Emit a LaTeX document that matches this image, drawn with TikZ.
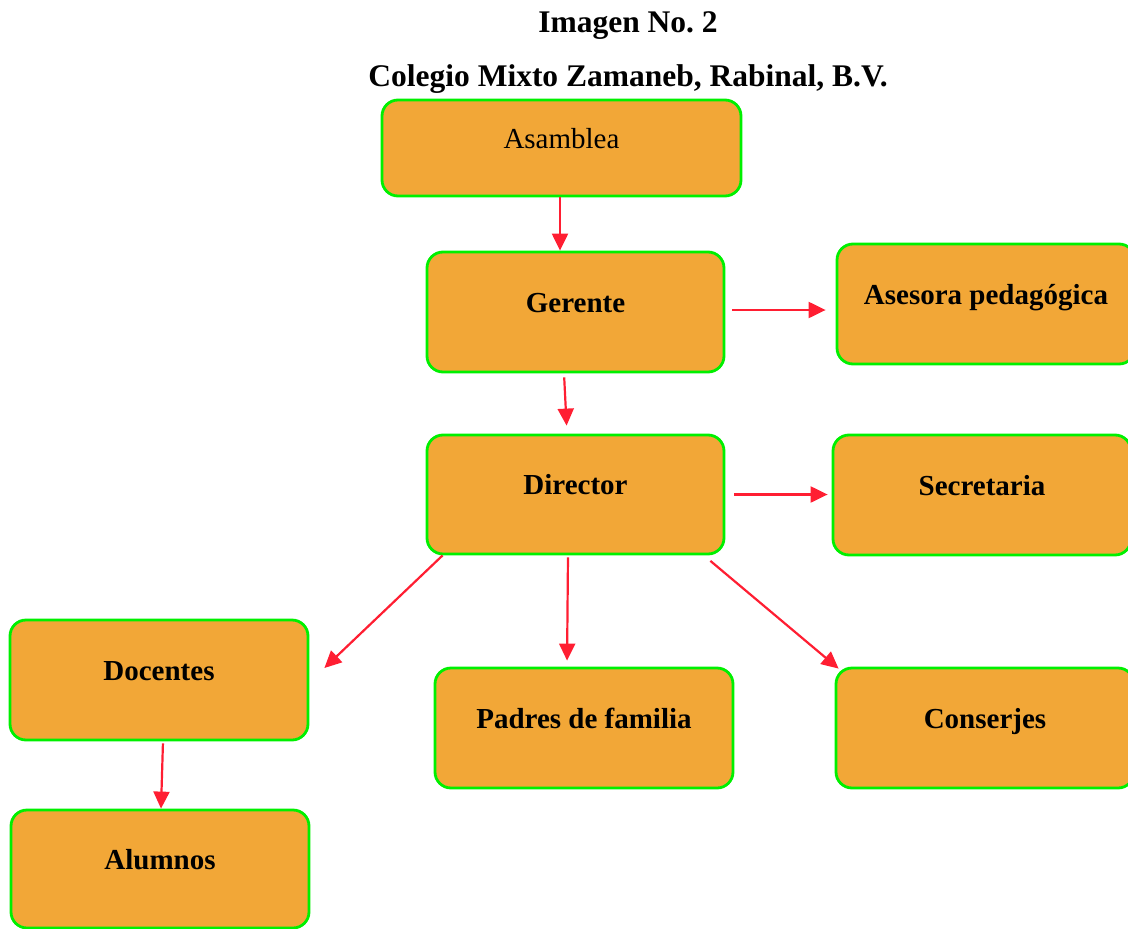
\documentclass[tikz,border=0pt]{standalone}
\usepackage{fontspec}
\setmainfont{Liberation Serif}
\usepackage{tikz}
\usetikzlibrary{arrows.meta,positioning}

\definecolor{boxfill}{RGB}{242,167,55}
\definecolor{boxline}{RGB}{0,240,0}
\definecolor{arrowred}{RGB}{255,30,50}

\tikzset{
  cargo/.style={rectangle,rounded corners=16pt,draw=boxline,fill=boxfill,line width=2.8pt,
    minimum width=297pt,minimum height=120pt,text height=20pt,text depth=20pt,inner sep=0pt,
    font=\fontsize{29}{34}\selectfont\bfseries},
  flecha/.style={draw=arrowred,line width=2.2pt,-{Triangle[length=17pt,width=16pt]}},
  titulo/.style={anchor=base,font=\fontsize{31.5}{36}\selectfont\bfseries}
}

\begin{document}
\frenchspacing
\begin{tikzpicture}[x=1pt,y=-1pt]
\useasboundingbox (0,0) rectangle (1128,929);
\node[titulo] (tit1) at (628,32) {Imagen No. 2};
\node[titulo] (tit2) at (628,86) {Colegio Mixto Zamaneb, Rabinal, B.V.};
\node[cargo,minimum width=359pt,minimum height=96pt,font=\fontsize{29}{34}\selectfont] (asamblea) at (561.5,148) {Asamblea};
\node[cargo] (gerente) at (575.5,312) {Gerente};
\node[cargo,minimum width=298pt] (asesora) at (986,304) {Asesora pedagógica};
\node[cargo,minimum height=119pt] (director) at (575.5,494.5) {Director};
\node[cargo,minimum width=298pt] (secretaria) at (982,495) {Secretaria};
\node[cargo,minimum width=298pt] (docentes) at (159,680) {Docentes};
\node[cargo,minimum width=298pt] (padres) at (584,728) {Padres de familia};
\node[cargo,minimum width=298pt] (conserjes) at (985,728) {Conserjes};
\node[cargo,minimum width=298pt,minimum height=118pt] (alumnos) at (160,869) {Alumnos};
\draw[flecha] ([xshift=-1.5pt]asamblea.south) -- ([xshift=-15.5pt]gerente.north);
\draw[flecha,shorten <=4pt,shorten >=8pt] ([xshift=-11.5pt]gerente.south) -- ([xshift=-8.5pt]director.north);
\draw[flecha,shorten <=7pt,shorten >=10pt] ([yshift=2pt]gerente.east) -- ([yshift=2pt]gerente.east -| asesora.west);
\draw[flecha,shorten <=9pt,shorten >=4pt] (director.east) -- (director.east -| secretaria.west);
\draw[flecha] ([xshift=17pt]director.south west) -- ([xshift=15pt,yshift=12pt]docentes.east);
\draw[flecha,shorten <=2pt,shorten >=6pt] ([xshift=-7.5pt]director.south) -- ([xshift=-17pt]padres.north);
\draw[flecha] ([xshift=-15pt,yshift=-5.5pt]director.south east) -- ([xshift=4pt,yshift=-2pt]conserjes.north west);
\draw[flecha,shorten <=2pt] ([xshift=4pt]docentes.south) -- ([xshift=1pt]alumnos.north);
\end{tikzpicture}
\end{document}
